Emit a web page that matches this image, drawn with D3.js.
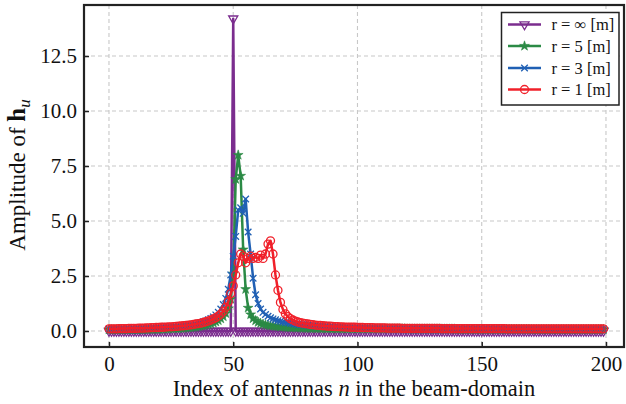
<!DOCTYPE html>
<html><head><meta charset="utf-8">
<script src="https://cdn.jsdelivr.net/npm/d3@7"></script>
<style>
html,body{margin:0;padding:0;background:#fff;}
svg text{font-family:"Liberation Serif","Times New Roman",Times,serif;}
</style></head>
<body><svg id="chart" width="626" height="404"></svg>
<script>
const xTicks = [0, 50, 100, 150, 200];
const yTicks = [0, 2.5, 5, 7.5, 10, 12.5];
const seriesNames = ["r = \u221E [m]", "r = 5 [m]", "r = 3 [m]", "r = 1 [m]"];

const rInf = [
0,0,0,0,0,0,0,0,0,0, 0,0,0,0,0,0,0,0,0,0,
0,0,0,0,0,0,0,0,0,0, 0,0,0,0,0,0,0,0,0,0,
0,0,0,0,0,0,0,0,0,0, 14.2,0,0,0,0,0,0,0,0,0,
0,0,0,0,0,0,0,0,0,0, 0,0,0,0,0,0,0,0,0,0,
0,0,0,0,0,0,0,0,0,0, 0,0,0,0,0,0,0,0,0,0,
0,0,0,0,0,0,0,0,0,0, 0,0,0,0,0,0,0,0,0,0,
0,0,0,0,0,0,0,0,0,0, 0,0,0,0,0,0,0,0,0,0,
0,0,0,0,0,0,0,0,0,0, 0,0,0,0,0,0,0,0,0,0,
0,0,0,0,0,0,0,0,0,0, 0,0,0,0,0,0,0,0,0,0,
0,0,0,0,0,0,0,0,0,0, 0,0,0,0,0,0,0,0,0,0];

const r5 = [
0.06,0.06,0.06,0.06,0.06,0.07,0.07,0.07,0.07,0.07,
0.07,0.07,0.07,0.07,0.07,0.08,0.08,0.08,0.08,0.08,
0.08,0.09,0.09,0.09,0.10,0.10,0.11,0.11,0.12,0.12,
0.13,0.14,0.15,0.16,0.17,0.18,0.20,0.22,0.24,0.27,
0.30,0.33,0.37,0.42,0.48,0.56,0.66,0.80,1.02,1.45,
2.60,6.90,8.00,7.05,3.70,1.90,1.05,0.75,0.57,0.47,
0.40,0.35,0.31,0.28,0.26,0.24,0.22,0.21,0.20,0.19,
0.18,0.17,0.16,0.16,0.15,0.15,0.14,0.14,0.13,0.13,
0.13,0.12,0.12,0.12,0.12,0.11,0.11,0.11,0.11,0.11,
0.10,0.10,0.10,0.10,0.10,0.10,0.10,0.10,0.10,0.10,
0.10,0.10,0.10,0.10,0.10,0.10,0.10,0.10,0.10,0.10,
0.10,0.10,0.10,0.10,0.10,0.10,0.10,0.10,0.10,0.10,
0.09,0.09,0.09,0.09,0.09,0.09,0.09,0.09,0.09,0.09,
0.09,0.09,0.09,0.09,0.09,0.09,0.09,0.09,0.09,0.09,
0.08,0.08,0.08,0.08,0.08,0.08,0.08,0.08,0.08,0.08,
0.08,0.08,0.08,0.08,0.08,0.08,0.08,0.08,0.08,0.08,
0.08,0.08,0.08,0.08,0.08,0.08,0.08,0.08,0.08,0.08,
0.07,0.07,0.07,0.07,0.07,0.07,0.07,0.07,0.07,0.07,
0.07,0.07,0.07,0.07,0.07,0.07,0.07,0.07,0.07,0.07,
0.07,0.07,0.07,0.07,0.07,0.07,0.07,0.07,0.07,0.07];

const r3 = [
0.09,0.09,0.09,0.09,0.09,0.10,0.10,0.10,0.10,0.10,
0.11,0.11,0.11,0.12,0.12,0.12,0.13,0.13,0.14,0.14,
0.15,0.15,0.16,0.17,0.17,0.18,0.19,0.20,0.21,0.22,
0.23,0.25,0.26,0.28,0.30,0.32,0.35,0.38,0.42,0.46,
0.51,0.57,0.64,0.73,0.85,1.00,1.20,1.48,1.90,2.55,
3.40,4.30,5.50,5.60,5.35,6.00,4.50,3.50,2.40,1.65,
1.25,1.00,0.85,0.75,0.67,0.60,0.55,0.51,0.47,0.44,
0.41,0.39,0.37,0.35,0.33,0.32,0.30,0.29,0.28,0.27,
0.26,0.25,0.24,0.23,0.23,0.22,0.21,0.21,0.20,0.20,
0.19,0.19,0.18,0.18,0.17,0.17,0.17,0.16,0.16,0.16,
0.15,0.15,0.15,0.15,0.14,0.14,0.14,0.14,0.14,0.13,
0.13,0.13,0.13,0.13,0.13,0.13,0.13,0.13,0.13,0.13,
0.12,0.12,0.12,0.12,0.12,0.12,0.12,0.12,0.12,0.12,
0.12,0.12,0.12,0.12,0.12,0.12,0.12,0.12,0.12,0.12,
0.11,0.11,0.11,0.11,0.11,0.11,0.11,0.11,0.11,0.11,
0.11,0.11,0.11,0.11,0.11,0.11,0.11,0.11,0.11,0.11,
0.10,0.10,0.10,0.10,0.10,0.10,0.10,0.10,0.10,0.10,
0.10,0.10,0.10,0.10,0.10,0.10,0.10,0.10,0.10,0.10,
0.09,0.09,0.09,0.09,0.09,0.09,0.09,0.09,0.09,0.09,
0.09,0.09,0.09,0.09,0.09,0.09,0.09,0.09,0.09,0.09];

const r1 = [
0.10,0.10,0.10,0.10,0.11,0.11,0.11,0.11,0.12,0.12,
0.12,0.12,0.13,0.13,0.13,0.14,0.14,0.15,0.15,0.16,
0.16,0.17,0.17,0.18,0.19,0.19,0.20,0.21,0.22,0.23,
0.24,0.25,0.27,0.28,0.30,0.32,0.34,0.36,0.39,0.42,
0.46,0.50,0.55,0.61,0.68,0.77,0.90,1.08,1.33,1.70,
2.05,2.55,3.10,3.50,3.40,3.10,3.30,3.40,3.30,3.35,
3.30,3.45,3.30,3.50,3.95,4.10,3.50,2.55,1.85,1.30,
0.98,0.78,0.65,0.56,0.50,0.45,0.41,0.38,0.36,0.34,
0.32,0.30,0.29,0.27,0.26,0.25,0.24,0.23,0.22,0.22,
0.21,0.20,0.20,0.19,0.19,0.18,0.18,0.17,0.17,0.17,
0.16,0.16,0.16,0.15,0.15,0.15,0.15,0.14,0.14,0.14,
0.14,0.14,0.13,0.13,0.13,0.13,0.13,0.13,0.12,0.12,
0.12,0.12,0.12,0.12,0.12,0.12,0.12,0.12,0.12,0.12,
0.12,0.12,0.12,0.12,0.11,0.11,0.11,0.11,0.11,0.11,
0.11,0.11,0.11,0.11,0.11,0.11,0.11,0.11,0.11,0.11,
0.11,0.11,0.11,0.11,0.11,0.11,0.11,0.11,0.11,0.11,
0.10,0.10,0.10,0.10,0.10,0.10,0.10,0.10,0.10,0.10,
0.10,0.10,0.10,0.10,0.10,0.10,0.10,0.10,0.10,0.10,
0.10,0.10,0.10,0.10,0.10,0.10,0.10,0.10,0.10,0.10,
0.10,0.10,0.10,0.10,0.10,0.10,0.10,0.10,0.10,0.10];

const colors = ["#7b2d8e", "#2b8a45", "#2060b4", "#f0202a"];
const markerTypes = ["tri", "star", "x", "circle"];
const seriesValues = [rInf, r5, r3, r1];
const FONT = "'Liberation Serif', 'Times New Roman', Times, serif";

const svg = d3.select("#chart");
svg.append("rect").attr("width", 626).attr("height", 404).attr("fill", "#fff");

const L = 84, R = 624, T = 5, B = 347;
const x = d3.scaleLinear().domain([-10.05, 207.25]).range([L, R]);
const y = d3.scaleLinear().domain([-0.727, 14.82]).range([B, T]);

svg.append("defs").append("clipPath").attr("id", "clip")
  .append("rect").attr("x", L).attr("y", T).attr("width", R - L).attr("height", B - T);

// grid
const grid = svg.append("g");
grid.selectAll(".gx").data(xTicks).join("line")
  .attr("x1", d => x(d)).attr("x2", d => x(d)).attr("y1", T).attr("y2", B)
  .attr("stroke", "#c8c8c8").attr("stroke-width", 1.1).attr("stroke-dasharray", "4,3");
grid.selectAll(".gy").data(yTicks).join("line")
  .attr("y1", d => y(d)).attr("y2", d => y(d)).attr("x1", L).attr("x2", R)
  .attr("stroke", "#c8c8c8").attr("stroke-width", 1.1).attr("stroke-dasharray", "4,3");

function markerPath(type) {
  if (type === "tri") return d3.symbol(d3.symbolTriangle, 36)();
  if (type === "star") return d3.symbol(d3.symbolStar, 30)();
  if (type === "x") return d3.symbol(d3.symbolTimes, 30)();
  return null;
}

function drawMarker(g, type, color, cx, cy) {
  if (type === "circle") {
    g.append("circle").attr("cx", cx).attr("cy", cy).attr("r", 4)
      .attr("fill", "none").attr("stroke", color).attr("stroke-width", 1.3);
  } else if (type === "tri") {
    g.append("path").attr("d", markerPath(type))
      .attr("transform", `translate(${cx},${cy}) rotate(180)`)
      .attr("fill", "none").attr("stroke", color).attr("stroke-width", 1.3);
  } else if (type === "star") {
    g.append("path").attr("d", markerPath(type))
      .attr("transform", `translate(${cx},${cy})`)
      .attr("fill", color).attr("stroke", color).attr("stroke-width", 0.6);
  } else {
    g.append("path").attr("d", markerPath(type))
      .attr("transform", `translate(${cx},${cy})`)
      .attr("fill", "none").attr("stroke", color).attr("stroke-width", 1.3);
  }
}

const plot = svg.append("g").attr("clip-path", "url(#clip)");
const line = d3.line().x((d, i) => x(i)).y(d => y(d));

seriesValues.forEach((vals, k) => {
  const g = plot.append("g");
  g.append("path").datum(vals).attr("d", line)
    .attr("fill", "none").attr("stroke", colors[k]).attr("stroke-width", 2.5)
    .attr("stroke-linejoin", "round");
  vals.forEach((v, i) => drawMarker(g, markerTypes[k], colors[k], x(i), y(v)));
});

// axes (ticks inward)
const xAxis = d3.axisBottom(x).tickValues(xTicks).tickSize(-5).tickPadding(9).tickFormat(d3.format("d"));
const yAxis = d3.axisLeft(y).tickValues(yTicks).tickSize(-5).tickPadding(7).tickFormat(d3.format(".1f"));

const gx = svg.append("g").attr("transform", `translate(0,${B})`).call(xAxis);
gx.select(".domain").remove();
gx.selectAll(".tick line").attr("stroke", "#222").attr("stroke-width", 1.5);
gx.selectAll(".tick text").attr("font-size", 21).attr("fill", "#111")
  .attr("font-family", FONT);

const gy = svg.append("g").attr("transform", `translate(${L},0)`).call(yAxis);
gy.select(".domain").remove();
gy.selectAll(".tick line").attr("stroke", "#222").attr("stroke-width", 1.5);
gy.selectAll(".tick text").attr("font-size", 21).attr("fill", "#111")
  .attr("font-family", FONT);

// frame
svg.append("rect").attr("x", L).attr("y", T).attr("width", R - L).attr("height", B - T)
  .attr("fill", "none").attr("stroke", "#222").attr("stroke-width", 2.2);

// axis labels
const xl = svg.append("text").attr("x", (L + R) / 2).attr("y", 396)
  .attr("text-anchor", "middle").attr("font-size", 22.5).attr("fill", "#111")
  .attr("font-family", FONT);
xl.append("tspan").text("Index of antennas ");
xl.append("tspan").attr("font-style", "italic").text("n");
xl.append("tspan").text(" in the beam-domain");

const yl = svg.append("text").attr("transform", `translate(25,${(T + B) / 2 - 1}) rotate(-90)`)
  .attr("text-anchor", "middle").attr("font-size", 23).attr("fill", "#111")
  .attr("font-family", FONT);
yl.append("tspan").text("Amplitude of ");
yl.append("tspan").attr("font-weight", "bold").attr("font-size", 25).text("h");
yl.append("tspan").attr("font-style", "italic").attr("font-size", 17).attr("dy", 5).text("u");

// legend
const lg = svg.append("g");
lg.append("rect").attr("x", 501.5).attr("y", 12.5).attr("width", 117.5).attr("height", 92.5)
  .attr("fill", "#fff").attr("stroke", "#222").attr("stroke-width", 1.5);
const ly = [24.5, 46, 68, 89.5];
seriesNames.forEach((name, k) => {
  lg.append("line").attr("x1", 508).attr("x2", 541).attr("y1", ly[k]).attr("y2", ly[k])
    .attr("stroke", colors[k]).attr("stroke-width", 2.5);
  drawMarker(lg, markerTypes[k], colors[k], 524.5, ly[k]);
  lg.append("text").attr("x", 551.5).attr("y", ly[k] + 5.5).attr("font-size", 16.5)
    .attr("fill", "#111").attr("font-family", FONT).text(name);
});
</script></body></html>
